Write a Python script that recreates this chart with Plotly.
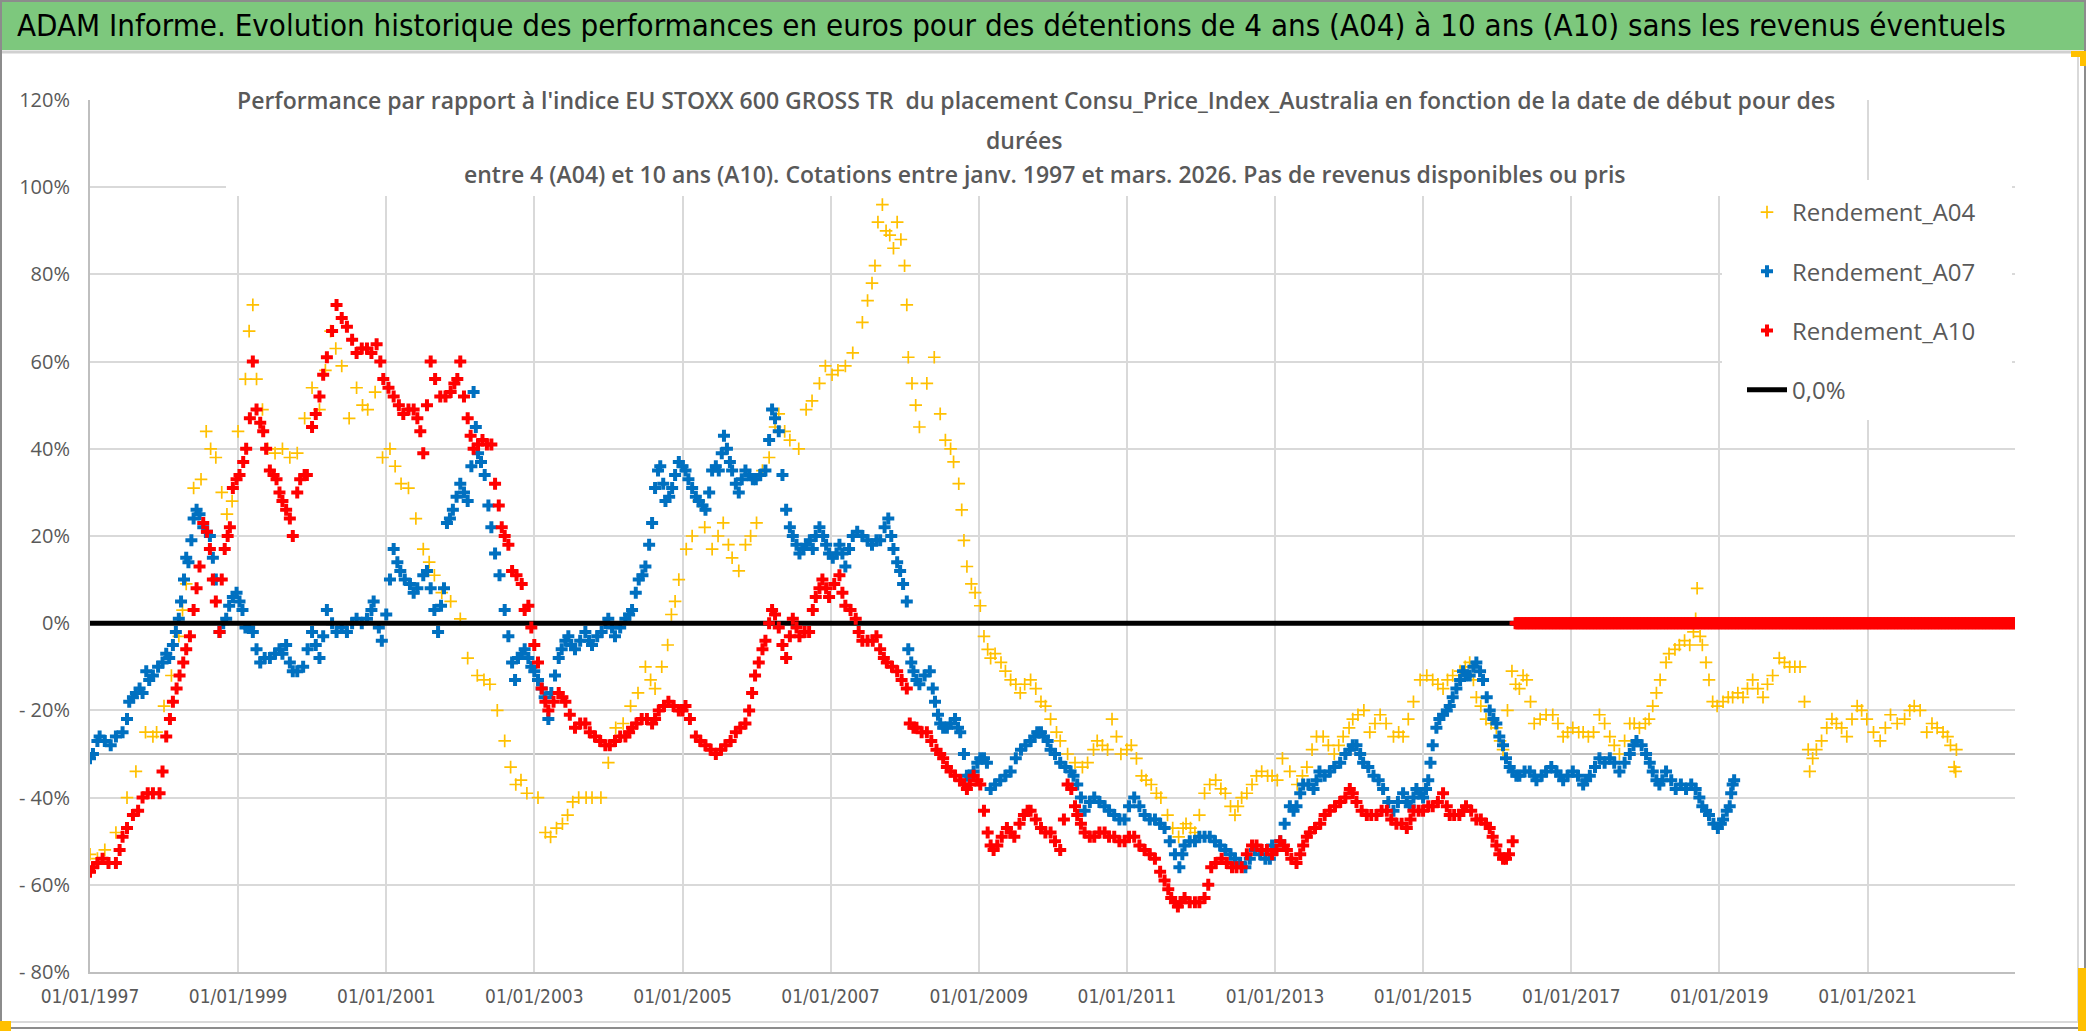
import pandas as pd
import plotly.graph_objects as go

# ---------------- data (decimal year, performance %) ----------------
A04_POINTS = [
(1997.0,-53),(1997.1,-54),(1997.2,-52),(1997.35,-48),(1997.5,-40),(1997.62,-34),(1997.75,-25),(1997.85,-26),(1997.9,-25),
(1998.0,-19),(1998.1,-12),(1998.2,-3),(1998.25,3),(1998.3,9),(1998.4,31),(1998.5,33),(1998.57,44),(1998.63,40),(1998.7,38),
(1998.78,30),(1998.85,25),(1998.92,28),(1999.0,44),(1999.1,56),(1999.15,67),(1999.2,73),(1999.25,56),(1999.33,49),(1999.4,40),
(1999.5,39),(1999.6,40),(1999.7,38),(1999.8,39),(1999.9,47),(2000.0,54),(2000.1,49),(2000.18,58),(2000.25,67),(2000.32,63),
(2000.4,59),(2000.5,47),(2000.6,54),(2000.68,50),(2000.75,49),(2000.85,53),(2000.95,38),(2001.05,40),(2001.12,36),(2001.2,32),
(2001.3,31),(2001.4,24),(2001.5,17),(2001.58,14),(2001.65,11),(2001.75,7),(2001.87,5),(2002.0,1),(2002.1,-8),(2002.23,-12),
(2002.32,-13),(2002.4,-14),(2002.5,-20),(2002.6,-27),(2002.68,-33),(2002.75,-37),(2002.82,-36),(2002.9,-39),(2003.05,-40),
(2003.15,-48),(2003.22,-49),(2003.3,-47),(2003.38,-46),(2003.45,-44),(2003.52,-41),(2003.6,-40),(2003.7,-40),(2003.78,-40),
(2003.9,-40),(2004.0,-32),(2004.1,-24),(2004.2,-23),(2004.3,-19),(2004.4,-16),(2004.5,-10),(2004.57,-13),(2004.63,-15),
(2004.72,-10),(2004.8,-5),(2004.85,2),(2004.9,5),(2004.95,10),(2005.05,17),(2005.13,20),(2005.22,28),(2005.3,22),(2005.4,17),
(2005.48,20),(2005.55,23),(2005.62,18),(2005.67,15),(2005.76,12),(2005.85,18),(2005.92,20),(2006.0,23),(2006.08,35),
(2006.17,38),(2006.25,45),(2006.3,48),(2006.38,44),(2006.45,42),(2006.57,40),(2006.67,49),(2006.75,51),(2006.85,55),
(2006.93,59),(2007.02,57),(2007.1,58),(2007.2,59),(2007.3,62),(2007.43,69),(2007.5,74),(2007.56,78),(2007.6,82),(2007.64,92),
(2007.7,96),(2007.75,90),(2007.8,89),(2007.85,86),(2007.9,92),(2007.95,88),(2008.0,82),(2008.03,73),(2008.05,61),(2008.1,55),
(2008.15,50),(2008.2,45),(2008.3,55),(2008.4,61),(2008.48,48),(2008.55,42),(2008.62,40),(2008.66,37),(2008.73,32),(2008.77,26),
(2008.8,19),(2008.84,13),(2008.9,9),(2008.95,7),(2009.02,4),(2009.07,-3),(2009.12,-6),(2009.16,-8),(2009.22,-7),(2009.3,-9),
(2009.36,-11),(2009.43,-13),(2009.5,-14),(2009.56,-16),(2009.62,-14),(2009.7,-13),(2009.77,-15),(2009.84,-18),(2009.9,-19),
(2009.97,-22),(2010.05,-25),(2010.1,-27),(2010.2,-30),(2010.3,-32),(2010.4,-33),(2010.47,-32),(2010.55,-29),(2010.6,-27),
(2010.67,-28),(2010.74,-29),(2010.8,-22),(2010.86,-26),(2010.92,-30),(2011.0,-29),(2011.06,-28),(2011.13,-31),(2011.2,-35),
(2011.26,-36),(2011.33,-37),(2011.4,-39),(2011.46,-40),(2011.55,-44),(2011.62,-47),(2011.7,-49),(2011.76,-47),(2011.8,-46),
(2011.86,-47),(2011.92,-48),(2011.98,-44),(2012.05,-39),(2012.12,-37),(2012.2,-36),(2012.27,-38),(2012.33,-39),(2012.4,-42),
(2012.46,-44),(2012.5,-42),(2012.55,-40),(2012.62,-39),(2012.69,-37),(2012.75,-35),(2012.82,-34),(2012.9,-35),(2012.96,-35),
(2013.03,-36),(2013.1,-31),(2013.2,-34),(2013.3,-37),(2013.37,-35),(2013.43,-33),(2013.5,-29),(2013.56,-26),(2013.65,-26),
(2013.72,-28),(2013.8,-30),(2013.86,-28),(2013.92,-26),(2014.0,-24),(2014.05,-22),(2014.12,-21),(2014.2,-20),(2014.28,-25),
(2014.35,-23),(2014.42,-21),(2014.5,-23),(2014.6,-26),(2014.67,-25),(2014.73,-26),(2014.8,-22),(2014.87,-18),(2014.96,-13),
(2015.05,-12),(2015.13,-13),(2015.2,-14),(2015.27,-15),(2015.33,-13),(2015.4,-12),(2015.5,-11),(2015.57,-10),(2015.63,-9),
(2015.68,-13),(2015.72,-17),(2015.78,-19),(2015.85,-22),(2015.92,-23),(2015.99,-24),(2016.04,-27),(2016.08,-29),(2016.14,-20),
(2016.2,-11),(2016.25,-14),(2016.3,-15),(2016.35,-12),(2016.4,-13),(2016.45,-18),(2016.5,-23),(2016.58,-22),(2016.66,-21),
(2016.75,-21),(2016.82,-23),(2016.89,-26),(2016.95,-25),(2017.02,-24),(2017.1,-25),(2017.16,-25),(2017.23,-26),(2017.3,-25),
(2017.38,-21),(2017.45,-23),(2017.52,-26),(2017.58,-28),(2017.65,-30),(2017.72,-27),(2017.79,-23),(2017.85,-23),(2017.92,-24),
(2018.0,-23),(2018.05,-22),(2018.1,-19),(2018.15,-16),(2018.2,-13),(2018.28,-9),(2018.32,-7),(2018.4,-6),(2018.46,-5),
(2018.53,-4),(2018.6,-5),(2018.65,-2),(2018.68,1),(2018.7,8),(2018.74,-3),(2018.77,-5),(2018.82,-9),(2018.86,-13),(2018.91,-18),
(2018.97,-19),(2019.05,-18),(2019.12,-17),(2019.18,-17),(2019.25,-16),(2019.32,-17),(2019.38,-15),(2019.45,-13),(2019.52,-15),
(2019.59,-17),(2019.65,-14),(2019.72,-12),(2019.81,-8),(2019.88,-9),(2019.95,-10),(2020.02,-10),(2020.09,-10),(2020.15,-18),
(2020.2,-29),(2020.22,-34),(2020.26,-31),(2020.31,-29),(2020.38,-27),(2020.45,-24),(2020.52,-22),(2020.58,-23),(2020.65,-24),
(2020.72,-26),(2020.79,-22),(2020.86,-19),(2020.92,-20),(2020.99,-22),(2021.08,-25),(2021.17,-27),(2021.24,-24),(2021.31,-21),
(2021.4,-23),(2021.5,-22),(2021.57,-20),(2021.63,-19),(2021.71,-20),(2021.8,-25),(2021.87,-23),(2021.94,-24),(2022.02,-25),
(2022.08,-26),(2022.12,-28),(2022.17,-33),(2022.19,-34),(2022.2,-29),
]

A07_POINTS = [
(1997.0,-31),(1997.04,-30),(1997.1,-27),(1997.13,-26),(1997.2,-27),(1997.28,-28),(1997.35,-26),(1997.44,-25),(1997.5,-22),
(1997.53,-18),(1997.58,-17),(1997.62,-16),(1997.67,-15),(1997.71,-16),(1997.76,-11),(1997.8,-13),(1997.85,-12),(1997.92,-10),
(1997.98,-9),(1998.03,-7),(1998.07,-8),(1998.12,-5),(1998.16,-2),(1998.2,1),(1998.23,5),(1998.27,10),(1998.3,15),(1998.33,14),
(1998.37,19),(1998.4,24),(1998.44,26),(1998.48,25),(1998.53,22),(1998.58,21),(1998.62,20),(1998.66,15),(1998.7,10),(1998.75,-2),
(1998.8,0),(1998.84,1),(1998.88,4),(1998.93,6),(1998.98,7),(1999.02,5),(1999.06,3),(1999.1,-1),(1999.15,-1),(1999.2,-2),
(1999.25,-6),(1999.3,-9),(1999.36,-8),(1999.43,-8),(1999.5,-7),(1999.56,-6),(1999.6,-7),(1999.65,-5),(1999.7,-9),(1999.74,-11),
(1999.8,-11),(1999.88,-10),(1999.94,-6),(2000.0,-2),(2000.05,-5),(2000.1,-8),(2000.15,-3),(2000.2,3),(2000.27,0),(2000.33,-2),
(2000.4,-1),(2000.47,-2),(2000.54,0),(2000.6,1),(2000.67,0),(2000.74,1),(2000.8,3),(2000.83,5),(2000.9,-1),(2000.94,-4),
(2001.0,2),(2001.05,10),(2001.1,17),(2001.15,14),(2001.19,12),(2001.25,10),(2001.32,9),(2001.37,7),(2001.42,8),(2001.5,11),
(2001.55,12),(2001.6,8),(2001.65,3),(2001.7,-2),(2001.74,4),(2001.78,8),(2001.82,23),(2001.86,24),(2001.9,26),(2001.95,29),
(2002.0,32),(2002.05,30),(2002.1,28),(2002.15,36),(2002.18,53),(2002.21,45),(2002.24,39),(2002.28,37),(2002.33,34),(2002.38,27),
(2002.42,22),(2002.47,16),(2002.53,11),(2002.6,3),(2002.65,-3),(2002.7,-9),(2002.74,-13),(2002.78,-8),(2002.83,-7),(2002.87,-6),
(2002.92,-8),(2002.96,-10),(2003.0,-11),(2003.05,-13),(2003.1,-15),(2003.14,-17),(2003.19,-22),(2003.23,-16),(2003.28,-12),
(2003.33,-8),(2003.37,-6),(2003.42,-4),(2003.46,-3),(2003.5,-5),(2003.55,-6),(2003.62,-4),(2003.69,-2),(2003.74,-4),(2003.78,-5),
(2003.85,-3),(2003.91,-2),(2003.96,0),(2004.0,1),(2004.05,-1),(2004.09,-3),(2004.16,-1),(2004.23,1),(2004.28,2),(2004.32,3),
(2004.37,7),(2004.41,10),(2004.46,11),(2004.5,13),(2004.55,18),(2004.59,23),(2004.63,31),(2004.67,35),(2004.7,36),(2004.74,32),
(2004.77,28),(2004.82,29),(2004.86,31),(2004.9,34),(2004.95,37),(2005.0,36),(2005.04,35),(2005.08,33),(2005.13,31),(2005.18,29),
(2005.22,28),(2005.27,27),(2005.31,26),(2005.36,30),(2005.4,35),(2005.45,36),(2005.49,35),(2005.53,39),(2005.56,43),(2005.6,40),
(2005.64,37),(2005.67,35),(2005.72,32),(2005.76,30),(2005.8,33),(2005.85,35),(2005.9,34),(2005.95,33),(2005.99,33),(2006.05,34),
(2006.12,35),(2006.17,42),(2006.21,49),(2006.25,47),(2006.3,44),(2006.35,34),(2006.4,26),(2006.45,22),(2006.49,20),(2006.54,18),
(2006.58,16),(2006.63,17),(2006.67,18),(2006.72,19),(2006.76,17),(2006.8,20),(2006.85,22),(2006.9,20),(2006.94,18),(2006.98,16),
(2007.03,15),(2007.08,16),(2007.12,18),(2007.16,16),(2007.2,13),(2007.25,17),(2007.3,20),(2007.36,21),(2007.43,20),(2007.5,19),
(2007.56,18),(2007.62,19),(2007.67,19),(2007.73,22),(2007.78,24),(2007.82,20),(2007.85,17),(2007.9,14),(2007.94,12),(2007.98,9),
(2008.03,5),(2008.05,-6),(2008.09,-9),(2008.12,-11),(2008.16,-13),(2008.2,-14),(2008.27,-12),(2008.34,-11),(2008.38,-15),
(2008.41,-18),(2008.45,-21),(2008.48,-23),(2008.52,-24),(2008.57,-24),(2008.62,-23),(2008.68,-22),(2008.72,-24),(2008.75,-25),
(2008.8,-30),(2008.84,-35),(2008.88,-35),(2008.93,-34),(2008.98,-32),(2009.02,-31),(2009.07,-31),(2009.11,-32),(2009.16,-38),
(2009.22,-37),(2009.29,-36),(2009.36,-35),(2009.43,-34),(2009.5,-31),(2009.57,-29),(2009.63,-28),(2009.7,-27),(2009.75,-26),
(2009.79,-25),(2009.84,-25),(2009.88,-26),(2009.93,-27),(2009.97,-29),(2010.03,-30),(2010.1,-32),(2010.17,-33),(2010.24,-34),
(2010.28,-35),(2010.33,-37),(2010.38,-40),(2010.43,-43),(2010.5,-41),(2010.56,-40),(2010.63,-41),(2010.7,-42),(2010.76,-43),
(2010.83,-44),(2010.9,-45),(2010.97,-45),(2011.03,-42),(2011.1,-40),(2011.17,-42),(2011.24,-44),(2011.31,-45),(2011.38,-45),
(2011.45,-46),(2011.51,-47),(2011.58,-50),(2011.65,-53),(2011.71,-56),(2011.75,-53),(2011.78,-51),(2011.85,-50),(2011.92,-50),
(2011.98,-49),(2012.05,-49),(2012.12,-49),(2012.19,-50),(2012.26,-51),(2012.33,-52),(2012.4,-53),(2012.46,-54),(2012.53,-55),
(2012.6,-56),(2012.66,-54),(2012.73,-52),(2012.8,-53),(2012.87,-54),(2012.93,-54),(2012.96,-51),(2013.0,-52),(2013.07,-50),
(2013.13,-46),(2013.2,-42),(2013.25,-43),(2013.29,-42),(2013.34,-39),(2013.38,-37),(2013.45,-37),(2013.52,-38),(2013.56,-36),
(2013.6,-34),(2013.67,-35),(2013.74,-34),(2013.8,-33),(2013.88,-32),(2013.95,-30),(2014.01,-29),(2014.05,-28),(2014.1,-28),
(2014.15,-30),(2014.19,-32),(2014.26,-33),(2014.33,-35),(2014.4,-36),(2014.46,-38),(2014.53,-41),(2014.6,-43),(2014.66,-41),
(2014.73,-39),(2014.78,-41),(2014.82,-42),(2014.87,-40),(2014.91,-38),(2014.96,-39),(2015.0,-40),(2015.04,-38),(2015.07,-36),
(2015.1,-32),(2015.13,-28),(2015.18,-24),(2015.22,-22),(2015.27,-21),(2015.32,-20),(2015.36,-19),(2015.4,-17),(2015.45,-15),
(2015.5,-13),(2015.54,-11),(2015.58,-12),(2015.63,-12),(2015.68,-10),(2015.72,-9),(2015.77,-11),(2015.81,-13),(2015.86,-17),
(2015.9,-20),(2015.95,-22),(2015.99,-23),(2016.03,-26),(2016.08,-28),(2016.12,-31),(2016.17,-33),(2016.21,-34),(2016.26,-35),
(2016.3,-35),(2016.37,-34),(2016.44,-34),(2016.5,-35),(2016.53,-36),(2016.6,-35),(2016.66,-34),(2016.73,-33),(2016.8,-34),
(2016.85,-35),(2016.89,-36),(2016.95,-35),(2017.02,-34),(2017.09,-35),(2017.16,-37),(2017.2,-36),(2017.25,-35),(2017.32,-33),
(2017.38,-31),(2017.45,-32),(2017.52,-31),(2017.58,-32),(2017.65,-34),(2017.72,-32),(2017.79,-30),(2017.84,-28),(2017.88,-27),
(2017.95,-28),(2018.01,-30),(2018.06,-32),(2018.1,-34),(2018.15,-36),(2018.19,-37),(2018.23,-36),(2018.28,-34),(2018.35,-36),
(2018.41,-38),(2018.48,-37),(2018.55,-38),(2018.62,-37),(2018.68,-38),(2018.73,-40),(2018.77,-42),(2018.82,-43),(2018.86,-44),
(2018.92,-46),(2018.98,-47),(2019.02,-46),(2019.05,-45),(2019.1,-43),(2019.14,-42),(2019.16,-39),(2019.18,-37),(2019.2,-36),
]

A10_POINTS = [
(1997.0,-57),(1997.04,-56),(1997.1,-55),(1997.17,-54),(1997.25,-55),(1997.35,-55),(1997.4,-52),(1997.44,-49),(1997.5,-47),
(1997.58,-44),(1997.65,-43),(1997.71,-40),(1997.78,-39),(1997.85,-39),(1997.94,-39),(1997.98,-34),(1998.03,-26),(1998.08,-22),
(1998.12,-18),(1998.17,-15),(1998.21,-12),(1998.26,-9),(1998.3,-6),(1998.35,-3),(1998.4,3),(1998.44,8),(1998.48,13),(1998.53,23),
(1998.58,21),(1998.62,17),(1998.66,10),(1998.7,5),(1998.75,-2),(1998.78,10),(1998.82,17),(1998.86,20),(1998.89,22),(1998.93,31),
(1998.98,33),(1999.02,34),(1999.07,37),(1999.11,40),(1999.16,47),(1999.2,60),(1999.25,49),(1999.3,46),(1999.34,44),(1999.38,40),
(1999.43,35),(1999.48,34),(1999.52,33),(1999.56,30),(1999.6,28),(1999.65,26),(1999.7,24),(1999.74,20),(1999.8,30),(1999.84,33),
(1999.9,34),(1999.93,34),(2000.0,45),(2000.05,48),(2000.1,52),(2000.15,57),(2000.2,61),(2000.27,67),(2000.33,73),(2000.4,70),
(2000.47,68),(2000.54,65),(2000.6,62),(2000.67,63),(2000.74,63),(2000.8,62),(2000.87,64),(2000.92,60),(2000.96,56),(2001.03,54),
(2001.1,52),(2001.17,50),(2001.23,48),(2001.3,49),(2001.37,49),(2001.42,47),(2001.46,44),(2001.5,39),(2001.55,50),(2001.6,60),
(2001.66,56),(2001.73,52),(2001.8,52),(2001.87,53),(2001.92,55),(2001.96,56),(2002.0,60),(2002.05,52),(2002.1,47),(2002.14,43),
(2002.18,40),(2002.24,41),(2002.3,42),(2002.36,41),(2002.42,41),(2002.47,32),(2002.52,27),(2002.56,22),(2002.6,20),(2002.65,18),
(2002.7,12),(2002.76,11),(2002.83,9),(2002.87,3),(2002.92,4),(2002.96,-1),(2003.0,-5),(2003.05,-9),(2003.1,-15),(2003.15,-18),
(2003.19,-20),(2003.26,-18),(2003.33,-16),(2003.38,-17),(2003.42,-18),(2003.48,-21),(2003.55,-24),(2003.62,-23),(2003.69,-23),
(2003.75,-25),(2003.82,-26),(2003.89,-27),(2003.96,-28),(2004.02,-28),(2004.09,-27),(2004.16,-26),(2004.23,-26),(2004.28,-25),
(2004.32,-24),(2004.38,-23),(2004.45,-22),(2004.52,-22),(2004.59,-23),(2004.63,-22),(2004.68,-20),(2004.75,-19),(2004.81,-18),
(2004.88,-19),(2004.95,-20),(2005.0,-20),(2005.04,-19),(2005.1,-22),(2005.18,-26),(2005.24,-27),(2005.31,-28),(2005.38,-29),
(2005.45,-30),(2005.52,-29),(2005.58,-28),(2005.65,-27),(2005.72,-25),(2005.78,-24),(2005.85,-23),(2005.9,-20),(2005.94,-16),
(2005.98,-12),(2006.03,-9),(2006.08,-6),(2006.12,-4),(2006.17,0),(2006.21,3),(2006.25,2),(2006.3,-1),(2006.35,-5),(2006.4,-8),
(2006.45,-3),(2006.49,1),(2006.54,-1),(2006.58,-3),(2006.65,-2),(2006.71,-2),(2006.76,3),(2006.8,6),(2006.85,8),(2006.89,10),
(2006.94,8),(2006.98,6),(2007.05,9),(2007.12,11),(2007.16,7),(2007.2,4),(2007.27,3),(2007.34,1),(2007.38,-2),(2007.43,-4),
(2007.5,-4),(2007.57,-4),(2007.62,-3),(2007.67,-6),(2007.72,-8),(2007.76,-9),(2007.83,-10),(2007.9,-11),(2007.96,-13),
(2008.03,-15),(2008.07,-23),(2008.12,-24),(2008.16,-24),(2008.23,-25),(2008.3,-25),(2008.36,-27),(2008.43,-29),(2008.48,-30),
(2008.52,-31),(2008.57,-33),(2008.62,-34),(2008.68,-35),(2008.75,-36),(2008.8,-37),(2008.84,-38),(2008.88,-37),(2008.93,-35),
(2008.98,-36),(2009.02,-37),(2009.07,-43),(2009.12,-48),(2009.16,-51),(2009.2,-52),(2009.25,-51),(2009.31,-49),(2009.38,-47),
(2009.43,-48),(2009.48,-49),(2009.55,-46),(2009.61,-44),(2009.66,-43),(2009.7,-43),(2009.77,-45),(2009.84,-47),(2009.9,-48),
(2009.97,-48),(2010.03,-50),(2010.1,-52),(2010.15,-45),(2010.2,-37),(2010.25,-38),(2010.3,-42),(2010.33,-44),(2010.38,-46),
(2010.43,-48),(2010.5,-49),(2010.56,-49),(2010.63,-48),(2010.7,-48),(2010.76,-49),(2010.83,-49),(2010.9,-50),(2010.97,-50),
(2011.03,-49),(2011.1,-49),(2011.17,-51),(2011.24,-52),(2011.31,-53),(2011.38,-54),(2011.45,-57),(2011.51,-59),(2011.56,-61),
(2011.6,-63),(2011.65,-64),(2011.69,-65),(2011.73,-64),(2011.78,-63),(2011.85,-64),(2011.92,-64),(2011.98,-64),(2012.05,-63),
(2012.1,-60),(2012.14,-56),(2012.2,-55),(2012.28,-54),(2012.35,-55),(2012.42,-56),(2012.48,-56),(2012.55,-56),(2012.62,-53),
(2012.69,-51),(2012.75,-51),(2012.82,-52),(2012.89,-52),(2012.96,-53),(2013.02,-52),(2013.07,-50),(2013.12,-51),(2013.16,-52),
(2013.22,-54),(2013.29,-55),(2013.34,-53),(2013.38,-51),(2013.43,-49),(2013.47,-48),(2013.54,-47),(2013.61,-46),(2013.67,-44),
(2013.74,-43),(2013.81,-42),(2013.88,-41),(2013.95,-40),(2014.01,-38),(2014.05,-39),(2014.1,-41),(2014.17,-43),(2014.24,-44),
(2014.3,-44),(2014.37,-44),(2014.44,-43),(2014.51,-43),(2014.57,-45),(2014.64,-46),(2014.71,-46),(2014.78,-47),(2014.83,-45),
(2014.87,-43),(2014.94,-43),(2015.0,-43),(2015.07,-42),(2015.13,-42),(2015.2,-41),(2015.27,-39),(2015.32,-42),(2015.36,-44),
(2015.42,-44),(2015.49,-44),(2015.54,-43),(2015.58,-42),(2015.65,-43),(2015.72,-45),(2015.78,-45),(2015.85,-46),(2015.9,-47),
(2015.94,-49),(2015.99,-51),(2016.03,-53),(2016.08,-54),(2016.12,-54),(2016.16,-53),(2016.21,-50),
]
# A10 has no value after spring 2016: plotted at 0 until the end of the axis
A10_ZERO_START = "2016-04-01"
A10_ZERO_END = "2023-01-06"

ZERO_LINE_X = ["1997-01-01", "2023-01-01"]
ZERO_LINE_Y = [0, 0]

SERIES_NAMES = ["Rendement_A04", "Rendement_A07", "Rendement_A10", "0,0%"]
Y_TICKS = [-80, -60, -40, -20, 0, 20, 40, 60, 80, 100, 120]

TITLE = ("ADAM Informe. Evolution historique des performances en euros pour des détentions de 4 ans (A04) "
         "à 10 ans (A10) sans les revenus éventuels")
SUB1 = ("Performance par rapport à l'indice EU STOXX 600 GROSS TR  du placement Consu_Price_Index_Australia "
        "en fonction de la date de début pour des")
SUB2 = "durées"
SUB3 = "entre 4 (A04) et 10 ans (A10). Cotations entre janv. 1997 et mars. 2026. Pas de revenus disponibles ou pris"

# ---------------- helpers ----------------
def yr2date(y):
    yi = int(y)
    b = pd.Timestamp(yi, 1, 1)
    n = pd.Timestamp(yi + 1, 1, 1)
    return b + (n - b) * (y - yi)

def unpack(points):
    return [yr2date(p[0]) for p in points], [p[1] for p in points]

a04_x, a04_y = unpack(A04_POINTS)
a07_x, a07_y = unpack(A07_POINTS)
a10_x, a10_y = unpack(A10_POINTS)
zero_dates = list(pd.date_range(A10_ZERO_START, A10_ZERO_END, freq="7D"))
a10_x = a10_x + zero_dates
a10_y = a10_y + [0] * len(zero_dates)

W, H = 2086, 1031
L, R, T, B = 90, 2015, 100, 972   # plot area in pixels
PW, PH = R - L, B - T

def px(xp):
    return (xp - L) / PW

def py(yp):
    return (B - yp) / PH

YELLOW, BLUE, RED = "#FFC000", "#0070C0", "#FF0000"
GRAY_TXT = "#595959"
GRID = "#D9D9D9"
NARROW = "Liberation Sans Narrow, Arial Narrow, DejaVu Sans Condensed, sans-serif"
SANS = "Open Sans, Noto Sans, DejaVu Sans, sans-serif"

fig = go.Figure()
fig.add_trace(go.Scatter(
    x=a04_x, y=a04_y, mode="markers", name=SERIES_NAMES[0], legendrank=1, legendgroup="a",
    marker=dict(symbol="cross-thin", size=9, color=YELLOW, line=dict(width=1.7, color=YELLOW))))
fig.add_trace(go.Scatter(
    x=a07_x, y=a07_y, mode="markers", name=SERIES_NAMES[1], legendrank=2, legendgroup="b",
    marker=dict(symbol="cross", size=10, color=BLUE, line=dict(width=0))))
fig.add_trace(go.Scatter(
    x=ZERO_LINE_X, y=ZERO_LINE_Y, mode="lines", name=SERIES_NAMES[3], legendrank=4, legendgroup="d",
    line=dict(color="black", width=5)))
fig.add_trace(go.Scatter(
    x=a10_x, y=a10_y, mode="markers", name=SERIES_NAMES[2], legendrank=3, legendgroup="c",
    marker=dict(symbol="cross", size=10, color=RED, line=dict(width=0))))

ticktext = [("- %d%%" % (-v)) if v < 0 else ("%d%%" % v) for v in Y_TICKS]

shapes = [
    # green banner
    dict(type="rect", xref="paper", yref="paper", x0=px(0), x1=px(W), y0=py(50), y1=py(0),
         fillcolor="#7DC87D", line=dict(width=0), layer="below"),
    dict(type="line", xref="paper", yref="paper", x0=px(0), x1=px(W), y0=py(52), y1=py(52),
         line=dict(color="#D0D0D0", width=3)),
    # outer frame
    dict(type="rect", xref="paper", yref="paper", x0=px(1), x1=px(W - 1), y0=py(1028), y1=py(1),
         line=dict(color="#8C8C8C", width=2), fillcolor="rgba(0,0,0,0)"),
    dict(type="line", xref="paper", yref="paper", x0=px(0), x1=px(2078), y0=py(1022), y1=py(1022),
         line=dict(color=GRID, width=2)),
    dict(type="line", xref="paper", yref="paper", x0=px(2078), x1=px(2078), y0=py(54), y1=py(1022),
         line=dict(color=GRID, width=2)),
    # -30% reference line
    dict(type="line", xref="paper", yref="y", x0=0, x1=1, y0=-30, y1=-30,
         line=dict(color="#BFBFBF", width=2), layer="below"),
    # white title box (hides grid)
    dict(type="rect", xref="paper", yref="paper", x0=px(226), x1=px(1852), y0=py(196), y1=py(86),
         fillcolor="white", line=dict(width=0), layer="above"),
    # white legend box (hides grid)
    dict(type="rect", xref="paper", yref="paper", x0=px(1722), x1=px(2012), y0=py(420), y1=py(180),
         fillcolor="white", line=dict(width=0), layer="above"),
    # selection handles
    dict(type="rect", xref="paper", yref="paper", x0=px(0), x1=px(11), y0=py(1031), y1=py(1021),
         fillcolor=YELLOW, line=dict(width=0)),
    dict(type="rect", xref="paper", yref="paper", x0=px(2078), x1=px(2086), y0=py(1031), y1=py(968),
         fillcolor=YELLOW, line=dict(width=0)),
    dict(type="rect", xref="paper", yref="paper", x0=px(2071), x1=px(2086), y0=py(57), y1=py(51),
         fillcolor=YELLOW, line=dict(width=0)),
    dict(type="rect", xref="paper", yref="paper", x0=px(2080), x1=px(2086), y0=py(66), y1=py(51),
         fillcolor=YELLOW, line=dict(width=0)),
]

annotations = [
    dict(text=TITLE, xref="paper", yref="paper", x=px(1011), y=py(25), xanchor="center", yanchor="middle",
         showarrow=False, font=dict(family=NARROW, size=31, color="black")),
    dict(text=SUB1, xref="paper", yref="paper", x=px(1036), y=py(100), xanchor="center", yanchor="middle",
         showarrow=False, font=dict(family=SANS, size=23, color=GRAY_TXT, weight=600)),
    dict(text=SUB2, xref="paper", yref="paper", x=px(1024), y=py(140), xanchor="center", yanchor="middle",
         showarrow=False, font=dict(family=SANS, size=23, color=GRAY_TXT, weight=600)),
    dict(text=SUB3, xref="paper", yref="paper", x=px(1045), y=py(174), xanchor="center", yanchor="middle",
         showarrow=False, font=dict(family=SANS, size=23, color=GRAY_TXT, weight=600)),
]

fig.update_layout(
    width=W, height=H,
    margin=dict(l=L, r=W - R, t=T, b=H - B, pad=0, autoexpand=False),
    paper_bgcolor="white", plot_bgcolor="white",
    showlegend=True,
    legend=dict(x=px(1742), y=py(190), xanchor="left", yanchor="top", bgcolor="rgba(255,255,255,0)",
                font=dict(family=SANS, size=24, color=GRAY_TXT), traceorder="grouped",
                tracegroupgap=25, itemwidth=40),
    xaxis=dict(type="date", range=["1997-01-01", "2022-12-29"], tick0="1997-01-01", dtick="M24",
               tickformat="%d/%m/%Y", showgrid=True, gridcolor=GRID, gridwidth=2,
               showline=True, linecolor="#BFBFBF", linewidth=2, ticks="", zeroline=False,
               tickfont=dict(family=NARROW, size=19, color=GRAY_TXT), automargin=False, ticklabelstandoff=6),
    yaxis=dict(range=[-80, 120], tickvals=Y_TICKS, ticktext=ticktext, showgrid=True, gridcolor=GRID,
               gridwidth=2, showline=True, linecolor="#BFBFBF", linewidth=2, ticks="", zeroline=False,
               tickfont=dict(family=SANS, size=20, color=GRAY_TXT), automargin=False, ticklabelstandoff=14),
    shapes=shapes, annotations=annotations,
)

fig.write_html("out.html", config={"displayModeBar": False},
               post_script="document.body.style.margin='0';document.body.style.overflow='hidden';")
